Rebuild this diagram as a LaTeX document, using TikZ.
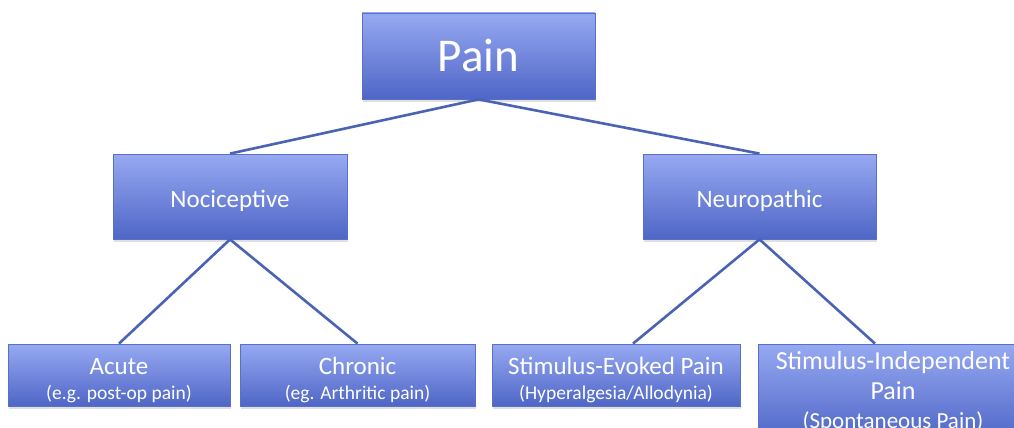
\documentclass[tikz,border=0pt]{standalone}
\usepackage{fontspec}
\setmainfont{Carlito}
\usetikzlibrary{shadows}
\definecolor{PainTop}{HTML}{97A9F2}
\definecolor{PainBottom}{HTML}{4E66C6}
\definecolor{PainEdge}{HTML}{5A70C2}
\definecolor{PainLine}{HTML}{4A63B5}
\newcommand{\painmain}{\fontsize{25}{29}\selectfont}
\newcommand{\painsub}{\fontsize{19.5}{25}\selectfont}
\newcommand{\painstrut}{\rule{0pt}{27pt}}
\tikzset{
  painbox/.style={draw=PainEdge,line width=0.8pt,top color=PainTop,bottom color=PainBottom,
    text=white,align=center,inner sep=0pt,font=\painmain,
    drop shadow={opacity=0.25,shadow xshift=1pt,shadow yshift=-2.5pt}},
  painlink/.style={PainLine,line width=2.6pt}
}
\begin{document}
\begin{tikzpicture}[x=1pt,y=1pt]
    \clip (0,0) rectangle (1014,-428);
    \fill[white] (0,0) rectangle (1014,-428);
    \node[painbox,minimum width=233,minimum height=86,font=\fontsize{47}{50}\selectfont] (pain) at (478.5,-56) {Pain};
    \node[painbox,minimum width=234,minimum height=85] (noci) at (230,-196.5) {\painstrut Nociceptive};
    \node[painbox,minimum width=233,minimum height=85] (neuro) at (759.5,-196.5) {\painstrut Neuropathic};
    \node[painbox,minimum width=222,minimum height=62] (acute) at (119,-375)
      {\painstrut Acute\\[-4pt]\painsub (e.g. post-op pain)};
    \node[painbox,minimum width=235,minimum height=62] (chronic) at (357.5,-375)
      {\painstrut Chronic\\[-4pt]\painsub (eg. Arthritic pain)};
    \node[painbox,minimum width=248,minimum height=62] (evoked) at (616,-375)
      {\painstrut Stimulus-Evoked Pain\\[-4pt]\painsub (Hyperalgesia/Allodynia)};
    \node[painbox,minimum width=270,minimum height=96,font=\fontsize{26}{29}\selectfont] (indep) at (893,-392)
      {Stimulus-Independent\\[1pt]Pain\\[0pt]\fontsize{23}{29}\selectfont (Spontaneous Pain)};
    \foreach \a/\b in {pain/noci,pain/neuro,noci/acute,noci/chronic} {
      \draw[painlink] (\a.south) -- (\b.north);
    }
    \draw[painlink] (neuro.south) -- ([xshift=17pt]evoked.north);
    \draw[painlink] (neuro.south) -- ([xshift=-18pt]indep.north);
  \end{tikzpicture}
\end{document}
